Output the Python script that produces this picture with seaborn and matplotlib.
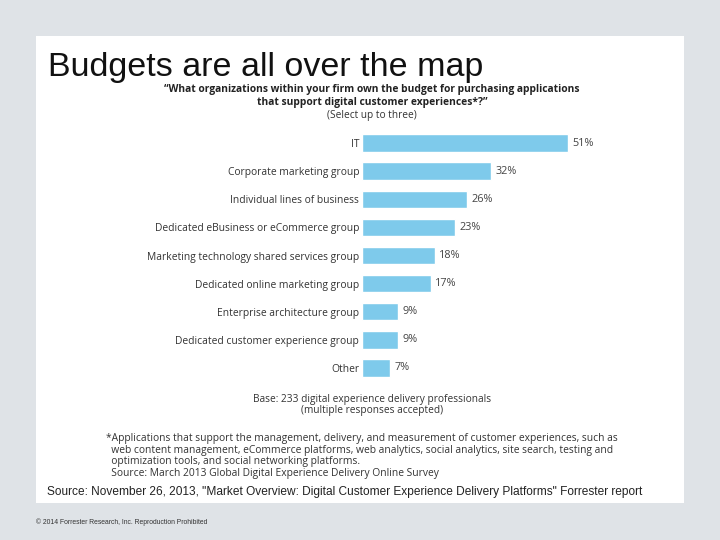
import matplotlib
matplotlib.use("Agg")
import matplotlib.pyplot as plt
import pandas as pd
import seaborn as sns
from matplotlib.patches import Rectangle

# дані з графіка
groups = ["IT", "Corporate marketing group", "Individual lines of business",
          "Dedicated eBusiness or eCommerce group", "Marketing technology shared services group",
          "Dedicated online marketing group", "Enterprise architecture group",
          "Dedicated customer experience group", "Other"]
shares = [51, 32, 26, 23, 18, 17, 9, 9, 7]

df = pd.DataFrame({"group": groups, "share": shares})

sns.set_theme(style="white")
plt.rcParams["font.family"] = ["Open Sans", "DejaVu Sans"]

fig = plt.figure(figsize=(7.2, 5.4), dpi=100)
fig.patch.set_facecolor("#dfe3e7")
fig.patches.append(Rectangle((0.05, 0.0685), 0.9, 0.865, transform=fig.transFigure,
                             facecolor="white", edgecolor="none", zorder=-5))

ax = fig.add_axes([0.5028, 0.2926, 0.393, 0.4685])
ax.set_facecolor("none")
sns.barplot(data=df, x="share", y="group", color="#7ecaeb", saturation=1, width=0.62, ax=ax)
ax.set_xlim(0, 70)
ax.set_ylim(8.5, -0.5)
for i, v in enumerate(shares):
    ax.text(v + 1.1, i, f"{v}%", va="center", ha="left", fontsize=7.8, color="#444444")
ax.set_xlabel("")
ax.set_ylabel("")
ax.set_xticks([])
ax.tick_params(axis="y", length=0, pad=2, labelsize=7.4, labelcolor="#333333")
sns.despine(ax=ax, left=True, bottom=True)

# заголовок і підписи
fig.text(48/720, 1 - 76/540, "Budgets are all over the map", fontsize=24.5,
         family="Liberation Sans", color="#111111")
fig.text(372/720, 1 - 96/540, "\u201cWhat organizations within your firm own the budget for purchasing applications\n"
         "that support digital customer experiences*?\u201d", ha="center", va="center",
         fontsize=7.4, fontweight="bold", color="#222222", linespacing=1.15)
fig.text(372/720, 1 - 115/540, "(Select up to three)", ha="center", va="center",
         fontsize=7.3, color="#333333")
fig.text(372/720, 1 - 405/540, "Base: 233 digital experience delivery professionals\n(multiple responses accepted)",
         ha="center", va="center", fontsize=7.3, color="#333333", linespacing=1.1)
fig.text(106/720, 1 - 456/540,
         "*Applications that support the management, delivery, and measurement of customer experiences, such as\n"
         "  web content management, eCommerce platforms, web analytics, social analytics, site search, testing and\n"
         "  optimization tools, and social networking platforms.\n"
         "  Source: March 2013 Global Digital Experience Delivery Online Survey",
         ha="left", va="center", fontsize=7.35, color="#333333", linespacing=1.05)
fig.text(47/720, 1 - 492/540,
         "Source: November 26, 2013, \"Market Overview: Digital Customer Experience Delivery Platforms\" Forrester report",
         ha="left", va="center", fontsize=8.6, family="Liberation Sans", color="#222222")
fig.text(36/720, 1 - 522/540, "\u00a9 2014 Forrester Research, Inc. Reproduction Prohibited",
         ha="left", va="center", fontsize=4.9, family="Liberation Sans", color="#333333")

fig.savefig("out.png", dpi=100)
